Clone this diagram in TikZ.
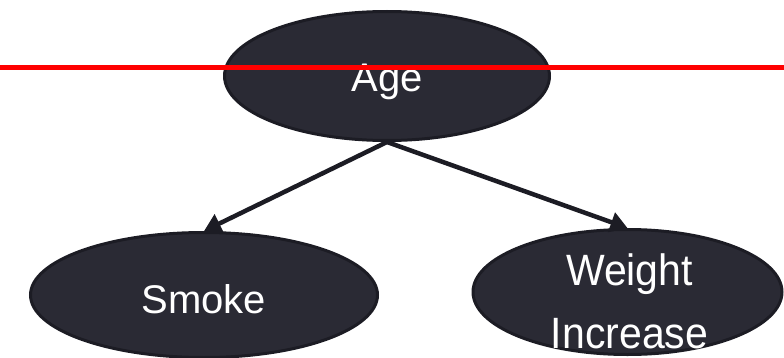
\documentclass[tikz,border=0pt]{standalone}
\usepackage{fontspec}
\setmainfont{Liberation Sans}
\usetikzlibrary{shapes.geometric,arrows.meta}
\definecolor{nodefill}{HTML}{2A2A34}
\definecolor{nodeedge}{HTML}{1C1C24}
\definecolor{redbar}{HTML}{FF0000}
\begin{document}
\begin{tikzpicture}[x=1pt,y=1pt,
  bubble/.style={ellipse, draw=nodeedge, fill=nodefill, line width=3pt, inner sep=0pt},
  caption/.style={text=white, inner sep=0pt, font=\fontsize{40}{48}\selectfont},
  link/.style={draw=nodeedge, line width=4.5pt, -{Triangle[length=17pt,width=20pt]}}]
\useasboundingbox (0,0) rectangle (784,357);
% cause node and its two effects
\node[bubble, minimum width=325pt, minimum height=129pt] (age) at (387,281) {};
\node[bubble, minimum width=347pt, minimum height=125pt] (smoke) at (204,62) {};
\node[bubble, minimum width=309pt, minimum height=125pt] (weight) at (627.5,65) {};
% labels
\node[caption, text height=28.6pt, text depth=0pt] (agetext) at (387,279.5) {Age};
\node[caption, text height=28.6pt, text depth=0pt] (smoketext) at (204,58) {Smoke};
\node[caption, align=center, font=\fontsize{41}{59}\selectfont, yscale=1.07, transform shape] (weighttext) at (629.5,56) {Weight\\Increase};
% directed edges
\draw[link] (age.south) -- (smoke.north);
\draw[link] (age.south) -- (weight.north);
% horizontal red rule across the top
\coordinate (ruleL) at (0,289.5);
\coordinate (ruleR) at (784,289.5);
\draw[redbar, line width=5.5pt] (ruleL) -- (ruleR);
\end{tikzpicture}
\end{document}
